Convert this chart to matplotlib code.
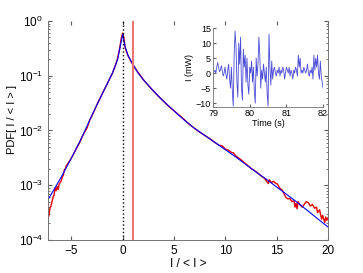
import numpy as np
import matplotlib
matplotlib.use("Agg")
import matplotlib.pyplot as plt

plt.rcParams['font.family'] = ['Liberation Sans', 'DejaVu Sans']
plt.rcParams['mathtext.default'] = 'regular'

# measured PDF (x = I/<I>, log10 of pdf)
red_x = [-7.3, -7.2, -7.1, -7.0, -6.9, -6.8, -6.7, -6.6, -6.5, -6.4, -6.3, -6.2, -6.1, -6.0,
         -5.9, -5.8, -5.7, -5.6, -5.5, -5.4, -5.2, -5.0, -4.8, -4.5, -4.2, -4.0, -3.7, -3.5,
         -3.2, -3.0, -2.5, -2.0, -1.5, -1.0, -0.7, -0.5, -0.3, -0.15, 0.0, 0.1, 0.25, 0.5,
         0.75, 1.0, 1.5, 2.0, 2.5, 3.0, 3.5, 4.0, 4.5, 5.0, 5.5, 6.0, 6.5, 7.0, 7.5, 8.0,
         8.5, 9.0, 9.4, 9.7, 10.0, 10.3, 10.6, 10.8, 11.0, 11.5, 12.0, 12.5, 13.0, 13.5,
         13.8, 14.0, 14.2, 14.3, 14.5, 14.7, 14.9, 15.1, 15.3, 15.5, 15.7, 15.9, 16.1, 16.3,
         16.5, 16.7, 16.8, 16.9, 17.0, 17.1, 17.3, 17.5, 17.7, 17.9, 18.1, 18.3, 18.5, 18.7,
         18.9, 19.0, 19.2, 19.4, 19.5, 19.7, 19.8, 19.9, 20.0]
red_logpdf = [-3.62, -3.55, -3.42, -3.38, -3.30, -3.22, -3.18, -3.05, -3.10, -3.02, -3.08, -2.98,
              -2.95, -2.92, -2.85, -2.82, -2.72, -2.70, -2.64, -2.62, -2.56, -2.50, -2.43, -2.32,
              -2.22, -2.13, -2.02, -1.96, -1.80, -1.73, -1.52, -1.33, -1.14, -0.95, -0.80, -0.68,
              -0.50, -0.32, -0.22, -0.30, -0.50, -0.63, -0.72, -0.80, -0.94, -1.07, -1.18, -1.28,
              -1.38, -1.47, -1.56, -1.64, -1.72, -1.80, -1.89, -1.96, -2.03, -2.09, -2.15, -2.22,
              -2.27, -2.28, -2.34, -2.36, -2.40, -2.41, -2.46, -2.53, -2.61, -2.69, -2.75, -2.83,
              -2.87, -2.92, -2.97, -2.90, -2.95, -2.93, -2.96, -2.98, -3.05, -3.08, -3.14, -3.22,
              -3.25, -3.24, -3.30, -3.28, -3.40, -3.33, -3.43, -3.30, -3.36, -3.40, -3.35, -3.30,
              -3.32, -3.38, -3.35, -3.42, -3.40, -3.50, -3.45, -3.62, -3.55, -3.68, -3.58, -3.64,
              -3.60]

# fitted curve
fit_x = [-7.3, -6.0, -5.0, -4.0, -3.0, -2.0, -1.0, -0.5, -0.2, 0.0, 0.2, 0.5, 1.0, 1.5, 2.0,
         3.0, 4.0, 5.0, 6.0, 7.0, 8.0, 9.0, 10.0, 11.0, 12.0, 13.0, 14.0, 15.0, 16.0, 17.0,
         18.0, 19.0, 20.0]
fit_logpdf = [-3.27, -2.85, -2.50, -2.13, -1.72, -1.33, -0.95, -0.70, -0.42, -0.24, -0.45, -0.62,
              -0.80, -0.95, -1.07, -1.28, -1.47, -1.64, -1.81, -1.96, -2.09, -2.22, -2.35, -2.48,
              -2.62, -2.76, -2.89, -3.03, -3.17, -3.31, -3.46, -3.61, -3.76]

# inset time series, sampled every 25 ms from 79 s to 82 s
signal_mw = [0, 0.5, 1, 0, 2, 3.5, 2, 0.5, 1, 2.5, 1, -1, 0, 2, -0.5, -2, 1, 3, -2, -5,
             2, -6, -11, 6, 14, 9, -3, -8, 10, 3, 12, -5, -9, 8, 2, 6, -3, 5, -4, -7,
             2, 0, 4, -3, 2, -6, -10, 5, -1, 3, 12, 6, -5, 1, -2, 3, 0, -3, 2, -7,
             -11, 13, 2, -4, 4, -2, 1, 2, 0, -1, 1, 0, 2, -1, 1, 0, 2, 1, -2, 0,
             2, 1, 0, 2, -1, 1, 0, -2, 1, 0, 2, 1, -1, 6, 2, 5, 0, 1, 0, 2,
             1, 0, 1, 3, 0, -1, 1, 0, 2, -2, 6, 1, 5, 2, 6, 0, -2, 4, -1, -3, -5]
time_s = np.linspace(79, 82, len(signal_mw))

fig = plt.figure(figsize=(3.63, 2.73), dpi=100)
ax = fig.add_axes([0.132, 0.121, 0.771, 0.802])

ax.plot(red_x, 10 ** np.array(red_logpdf), color='#e00000', lw=1.0)
ax.plot(fit_x, 10 ** np.array(fit_logpdf), color='#0000ff', lw=0.8)
ax.axvline(0, color='k', ls=':', lw=1.0)
ax.axvline(1, color='#f07070', lw=1.4)

ax.set_yscale('log')
ax.set_xlim(-7.3, 20)
ax.set_ylim(1e-4, 1)
ax.set_xticks([-5, 0, 5, 10, 15, 20])
ax.tick_params(which='both', direction='in', top=True, right=True, labelsize=8.5,
               colors='0.35', labelcolor='k')
ax.tick_params(which='major', length=3)
ax.tick_params(which='minor', length=1.5)
for side in ['left', 'right', 'bottom']:
    ax.spines[side].set_color('0.45')
    ax.spines[side].set_linewidth(0.7)
ax.spines['top'].set_visible(False)
ax.set_xlabel('I / < I >', fontsize=8.5, labelpad=1)
ax.set_ylabel('PDF[ I / < I > ]', fontsize=8)
ax.yaxis.set_label_coords(-0.11, 0.55)

# inset
ins = fig.add_axes([0.587, 0.608, 0.303, 0.289])
ins.plot(time_s, signal_mw, color='#4a4ad8', lw=0.6)
ins.set_xlim(79, 82)
ins.set_ylim(-11.3, 15)
ins.set_xticks([79, 80, 81, 82])
ins.set_yticks([-10, -5, 0, 5, 10, 15])
ins.tick_params(direction='in', length=2, labelsize=6.5, pad=1.5, colors='0.4', labelcolor='k')
ins.spines['top'].set_visible(False)
ins.spines['right'].set_visible(False)
ins.spines['left'].set_color('0.45')
ins.spines['bottom'].set_color('0.45')
ins.spines['left'].set_linewidth(0.6)
ins.spines['bottom'].set_linewidth(0.6)
ins.set_xlabel('Time (s)', fontsize=6.5, labelpad=1)
ins.set_ylabel('I (mW)', fontsize=6.5, labelpad=1)
ins.patch.set_alpha(0)

fig.savefig('out.png', dpi=100)
